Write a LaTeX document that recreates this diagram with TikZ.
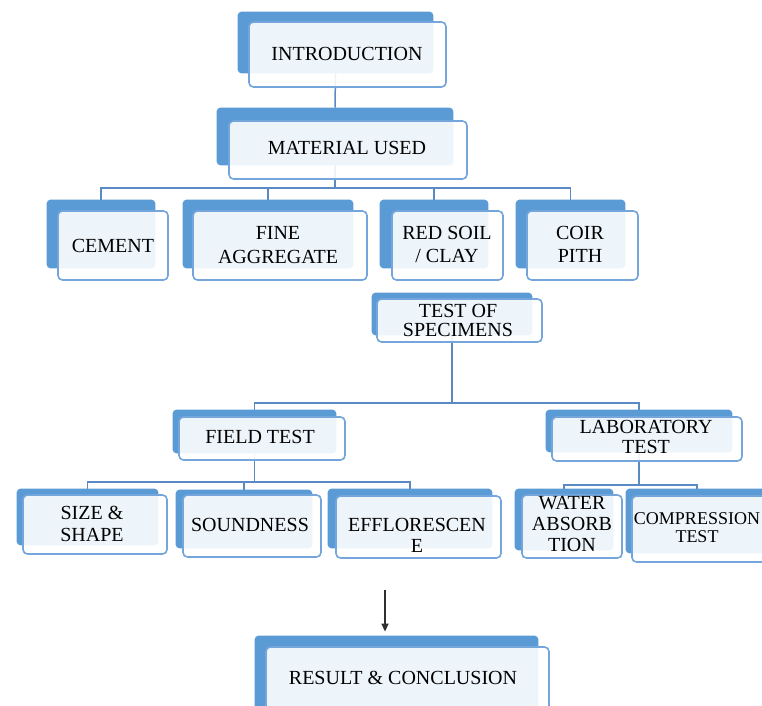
\documentclass[tikz,border=0pt]{standalone}
\usepackage{fontspec}
\setmainfont{Liberation Serif}
\usetikzlibrary{fit,arrows.meta}
\definecolor{boxblue}{HTML}{5B9BD5}
\definecolor{edgeblue}{HTML}{74A6DC}
\definecolor{lineblue}{HTML}{5A89C4}
\definecolor{arrowgray}{HTML}{303030}
\begin{document}
\begin{tikzpicture}[x=0.5pt,y=-0.5pt,
  backbox/.style={draw=none, inner sep=0pt},
  frontbox/.style={fill=white, fill opacity=0.9, draw=edgeblue, draw opacity=1, line width=0.8pt, rounded corners=2.2pt, inner sep=0pt},
  conn/.style={draw=lineblue, line width=0.75pt},
  lbl/.style={font=\fontsize{10}{11}\selectfont, align=center, inner sep=0pt, text=black},
  arr/.style={draw=arrowgray, line width=0.7pt, -{Triangle[length=4pt,width=3.5pt]}, shorten >=2pt}
]
\useasboundingbox (0,0) rectangle (762,706);
\clip (0,0) rectangle (762,706);

% ---------- coordinates for buses ----------
\coordinate (bus1) at (0,188);
\coordinate (bus2) at (0,403);
\coordinate (bus3) at (0,482);
\coordinate (bus4) at (0,485);
\coordinate (arrtop) at (385,590);

% ---------- back boxes (named, connectors attach here) ----------
\node[backbox, fit={(238,12) (433,73)}] (introB) {};
\node[backbox, fit={(217,108) (453,165)}] (matB) {};
\node[backbox, fit={(47,200) (155,268)}] (cementB) {};
\node[backbox, fit={(183,200) (353,268)}] (fineB) {};
\node[backbox, fit={(380,200) (488,268)}] (redB) {};
\node[backbox, fit={(516,200) (625,268)}] (coirB) {};
\node[backbox, fit={(372,293) (532,335)}] (testB) {};
\node[backbox, fit={(173,410) (336,453)}] (fieldB) {};
\node[backbox, fit={(546,410) (732,452)}] (labB) {};
\node[backbox, fit={(17,489) (158,545)}] (sizeB) {};
\node[backbox, fit={(176,490) (312,548)}] (soundB) {};
\node[backbox, fit={(328,489) (492,548)}] (effB) {};
\node[backbox, fit={(515,489) (613,550)}] (waterB) {};
\node[backbox, fit={(626,489) (768,553)}] (compB) {};
\node[backbox, fit={(255,636) (538,712)}] (resultB) {};

% ---------- connectors (behind the boxes) ----------
\draw[conn] (introB.south) -- (matB.north);
\draw[conn] (matB.south) -- (matB.south |- bus1);
\draw[conn] (cementB.north) -- (cementB.north |- bus1) -- (coirB.north |- bus1) -- (coirB.north);
\draw[conn] (fineB.north) -- (fineB.north |- bus1);
\draw[conn] (redB.north) -- (redB.north |- bus1);

\draw[conn] (testB.south) -- (testB.south |- bus2);
\draw[conn] (fieldB.north) -- (fieldB.north |- bus2) -- (labB.north |- bus2) -- (labB.north);

\draw[conn] (fieldB.south) -- (fieldB.south |- bus3);
\draw[conn] (sizeB.north) -- (sizeB.north |- bus3) -- (effB.north |- bus3) -- (effB.north);
\draw[conn] (soundB.north) -- (soundB.north |- bus3);

\draw[conn] (labB.south) -- (labB.south |- bus4);
\draw[conn] (waterB.north) -- (waterB.north |- bus4) -- (compB.north |- bus4) -- (compB.north);

\draw[arr] (arrtop) -- (arrtop |- resultB.north);

% ---------- back box fills over the connectors ----------
\foreach \b in {introB,matB,cementB,fineB,redB,coirB,testB,fieldB,labB,sizeB,soundB,effB,waterB,compB,resultB}
  \fill[boxblue, rounded corners=2pt] (\b.north west) rectangle (\b.south east);

% ---------- front boxes ----------
\node[frontbox, fit={(249,22) (446,87)}] (intro) {};
\node[frontbox, fit={(229,121) (467,179)}] (mat) {};
\node[frontbox, fit={(58,211) (168,280)}] (cement) {};
\node[frontbox, fit={(193,211) (367,280)}] (fine) {};
\node[frontbox, fit={(392,211) (503,280)}] (red) {};
\node[frontbox, fit={(527,211) (638,280)}] (coir) {};
\node[frontbox, fit={(377,299) (542,342)}] (test) {};
\node[frontbox, fit={(179,417) (345,460)}] (field) {};
\node[frontbox, fit={(552,417) (742,461)}] (lab) {};
\node[frontbox, fit={(23,495) (167,554)}] (size) {};
\node[frontbox, fit={(183,495) (321,557)}] (sound) {};
\node[frontbox, fit={(336,496) (501,558)}] (eff) {};
\node[frontbox, fit={(522,495) (622,558)}] (water) {};
\node[frontbox, fit={(632,496) (785,562)}] (comp) {};
\node[frontbox, fit={(266,647) (549,720)}] (result) {};

% ---------- texts ----------
\node[lbl] (introT) at (347,54) {INTRODUCTION};
\node[lbl] (matT) at (347,148) {MATERIAL USED};
\node[lbl] (cementT) at (113,246) {CEMENT};
\node[lbl, font=\fontsize{10}{12}\selectfont] (fineT) at (278,245) {FINE\\AGGREGATE};
\node[lbl, font=\fontsize{10}{11.5}\selectfont] (redT) at (447,244) {RED SOIL\\/ CLAY};
\node[lbl, font=\fontsize{10}{11.5}\selectfont] (coirT) at (580,244) {COIR\\PITH};
\node[lbl, font=\fontsize{10}{9.5}\selectfont] (testT) at (458,320) {TEST OF\\SPECIMENS};
\node[lbl] (fieldT) at (260,437) {FIELD TEST};
\node[lbl, font=\fontsize{10}{10}\selectfont] (labT) at (646,437) {LABORATORY\\TEST};
\node[lbl, font=\fontsize{10}{11}\selectfont] (sizeT) at (92,524) {SIZE \&\\SHAPE};
\node[lbl] (soundT) at (250,525) {SOUNDNESS};
\node[lbl, font=\fontsize{10}{10.5}\selectfont] (effT) at (417,535) {EFFLORESCEN\\E};
\node[lbl, font=\fontsize{10}{10.5}\selectfont] (waterT) at (572,524) {WATER\\ABSORB\\TION};
\node[lbl, font=\fontsize{9}{9}\selectfont] (compT) at (697,528) {COMPRESSION\\TEST};
\node[lbl] (resultT) at (403,678) {RESULT \& CONCLUSION};
\end{tikzpicture}
\end{document}
